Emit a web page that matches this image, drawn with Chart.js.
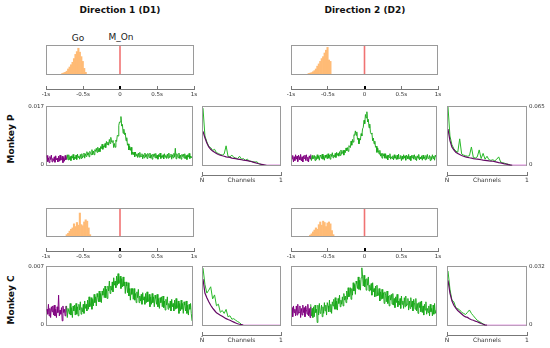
<!DOCTYPE html>
<html><head><meta charset="utf-8">
<script src="https://cdn.jsdelivr.net/npm/chart.js@4"></script>
<style>
html,body{margin:0;padding:0;background:#fff;width:550px;height:348px;overflow:hidden;position:relative;font-family:'DejaVu Sans',sans-serif;}
.box{position:absolute;border:1px solid #9a9a9a;box-sizing:border-box;}
canvas{position:absolute;}
.t{position:absolute;white-space:nowrap;color:#111;transform:translate(-50%,-50%);}
.title{font-weight:bold;font-size:9px;}
.ev{font-size:9px;color:#222;}
.mk{font-weight:bold;font-size:9px;transform:translate(-50%,-50%) rotate(-90deg);}
</style></head><body>
<div class="t title" style="left:120px;top:10px">Direction 1 (D1)</div>
<div class="t title" style="left:365px;top:10px">Direction 2 (D2)</div>
<div class="t ev" style="left:78px;top:38px">Go</div>
<div class="t ev" style="left:121px;top:37px">M_On</div>
<div class="t mk" style="left:11px;top:139px">Monkey P</div>
<div class="t mk" style="left:11px;top:300px">Monkey C</div>
<script>
// ---------- data ----------
const timeGrid = [
-1.00,-0.99,-0.98,-0.97,-0.96,-0.95,-0.94,-0.93,-0.92,-0.91,
-0.90,-0.89,-0.88,-0.87,-0.86,-0.85,-0.84,-0.83,-0.82,-0.81,
-0.80,-0.79,-0.78,-0.77,-0.76,-0.75,-0.74,-0.73,-0.72,-0.71,
-0.70,-0.69,-0.68,-0.67,-0.66,-0.65,-0.64,-0.63,-0.62,-0.61,
-0.60,-0.59,-0.58,-0.57,-0.56,-0.55,-0.54,-0.53,-0.52,-0.51,
-0.50,-0.49,-0.48,-0.47,-0.46,-0.45,-0.44,-0.43,-0.42,-0.41,
-0.40,-0.39,-0.38,-0.37,-0.36,-0.35,-0.34,-0.33,-0.32,-0.31,
-0.30,-0.29,-0.28,-0.27,-0.26,-0.25,-0.24,-0.23,-0.22,-0.21,
-0.20,-0.19,-0.18,-0.17,-0.16,-0.15,-0.14,-0.13,-0.12,-0.11,
-0.10,-0.09,-0.08,-0.07,-0.06,-0.05,-0.04,-0.03,-0.02,-0.01,
0.00,0.01,0.02,0.03,0.04,0.05,0.06,0.07,0.08,0.09,
0.10,0.11,0.12,0.13,0.14,0.15,0.16,0.17,0.18,0.19,
0.20,0.21,0.22,0.23,0.24,0.25,0.26,0.27,0.28,0.29,
0.30,0.31,0.32,0.33,0.34,0.35,0.36,0.37,0.38,0.39,
0.40,0.41,0.42,0.43,0.44,0.45,0.46,0.47,0.48,0.49,
0.50,0.51,0.52,0.53,0.54,0.55,0.56,0.57,0.58,0.59,
0.60,0.61,0.62,0.63,0.64,0.65,0.66,0.67,0.68,0.69,
0.70,0.71,0.72,0.73,0.74,0.75,0.76,0.77,0.78,0.79,
0.80,0.81,0.82,0.83,0.84,0.85,0.86,0.87,0.88,0.89,
0.90,0.91,0.92,0.93,0.94,0.95,0.96,0.97,0.98,0.99,
1.00];
const chanGrid = [0,0.025,0.05,0.075,0.1,0.125,0.15,0.175,0.2,0.225,0.25,0.275,0.3,0.325,0.35,0.375,0.4,0.425,0.45,0.475,0.5,0.525,0.55,0.575,0.6,0.625,0.65,0.675,0.7,0.725,0.75,0.775,0.8,0.825,0.85,0.875,0.9,0.925,0.95,0.975,1];

const timeTickValues = [-1,-0.5,0,0.5,1];
const timeTickLabels = ['-1s','-0.5s','0','0.5s','1s'];
const chanTickValues = [0,0.5,1];
const chanTickLabels = ['N\u0304','Channels','1'];
const monkeyPTraceTicks = ['0','0.017'];
const monkeyCTraceTicks = ['0','0.007'];
const monkeyPChanTicks = ['0','0.065'];
const monkeyCChanTicks = ['0','0.032'];

// Go-time histograms relative to M_On (relative frequency)
const pD1Bins = [-0.79,-0.77,-0.75,-0.73,-0.71,-0.69,-0.67,-0.65,-0.63,-0.61,-0.59,-0.57,-0.55,-0.53,-0.51,-0.49,-0.47];
const pD1Hist = [0.02,0.04,0.06,0.10,0.18,0.25,0.33,0.42,0.55,0.70,0.80,0.92,0.78,0.62,0.45,0.20,0.06];
const pD2Bins = [-0.77,-0.75,-0.73,-0.71,-0.69,-0.67,-0.65,-0.63,-0.61,-0.59,-0.57,-0.55,-0.53,-0.51,-0.49,-0.47];
const pD2Hist = [0.02,0.03,0.05,0.08,0.12,0.18,0.28,0.36,0.45,0.55,0.62,0.75,0.85,0.95,0.50,0.45];
const cD1Bins = [-0.73,-0.71,-0.69,-0.67,-0.65,-0.63,-0.61,-0.59,-0.57,-0.55,-0.53,-0.51,-0.49,-0.47,-0.45,-0.43,-0.41];
const cD1Hist = [0.05,0.10,0.18,0.25,0.30,0.45,0.35,0.50,0.40,0.85,0.42,0.38,0.52,0.60,0.55,0.30,0.05];
const cD2Bins = [-0.75,-0.73,-0.71,-0.69,-0.67,-0.65,-0.63,-0.61,-0.59,-0.57,-0.55,-0.53,-0.51,-0.49,-0.47,-0.45,-0.43];
const cD2Hist = [0.03,0.08,0.15,0.22,0.30,0.25,0.42,0.52,0.40,0.55,0.50,0.35,0.48,0.52,0.45,0.20,0.05];

// time traces: purple = baseline (-1 .. -0.74 s), green = -0.74 .. 1 s
const pD1Purple = [0.0028,0.0010,0.0021,0.0007,0.0025,0.0016,0.0029,0.0009,0.0019,0.0013,
 0.0024,0.0008,0.0027,0.0015,0.0020,0.0009,0.0026,0.0011,0.0029,0.0014,
 0.0016,0.0026,0.0007,0.0022,0.0011,0.0028,0.0015];
const pD1Green = [0.0024,0.0017,0.0030,0.0015,
 0.0030,0.0016,0.0025,0.0013,0.0027,0.0020,0.0031,0.0015,0.0023,0.0018,
 0.0029,0.0016,0.0032,0.0022,0.0026,0.0017,0.0031,0.0019,0.0033,0.0021,
 0.0026,0.0035,0.0020,0.0033,0.0025,0.0039,0.0029,0.0036,0.0024,0.0040,
 0.0036,0.0030,0.0045,0.0030,0.0041,0.0030,0.0045,0.0040,0.0049,0.0037,
 0.0052,0.0039,0.0049,0.0039,0.0054,0.0048,0.0061,0.0046,0.0056,0.0052,
 0.0063,0.0051,0.0069,0.0060,0.0067,0.0058,0.0075,0.0063,0.0081,0.0068,
 0.0067,0.0072,0.0051,0.0063,0.0052,0.0073,0.0069,0.0087,0.0085,0.0116,
 0.0126,0.0126,0.0142,0.0114,0.0119,0.0093,0.0105,0.0089,0.0094,0.0071,
 0.0080,0.0058,0.0062,0.0044,0.0055,0.0043,0.0052,0.0031,0.0038,0.0030,
 0.0038,0.0024,0.0038,0.0027,0.0032,0.0022,0.0035,0.0023,0.0037,0.0024,
 0.0025,0.0033,0.0018,0.0030,0.0021,0.0035,0.0024,0.0031,0.0019,0.0034,
 0.0029,0.0022,0.0035,0.0020,0.0030,0.0017,0.0032,0.0025,0.0033,0.0021,
 0.0034,0.0020,0.0029,0.0017,0.0031,0.0024,0.0035,0.0019,0.0027,0.0022,
 0.0030,0.0018,0.0033,0.0023,0.0028,0.0019,0.0032,0.0020,0.0035,0.0022,
 0.0024,0.0032,0.0017,0.0030,0.0021,0.0034,0.0024,0.0049,0.0018,0.0033,
 0.0028,0.0021,0.0035,0.0019,0.0029,0.0017,0.0031,0.0025,0.0032,0.0020,
 0.0033,0.0019,0.0028,0.0016,0.0030,0.0023,0.0034,0.0019,0.0026,0.0021,
 0.0026];
const pD2Purple = [0.0018,0.0028,0.0009,0.0024,0.0013,0.0030,0.0017,0.0026,0.0010,0.0029,
 0.0023,0.0015,0.0031,0.0012,0.0024,0.0009,0.0027,0.0019,0.0029,0.0013,
 0.0030,0.0012,0.0023,0.0009,0.0027,0.0018,0.0031];
const pD2Green = [0.0026,0.0013,0.0028,0.0018,
 0.0020,0.0028,0.0013,0.0025,0.0016,0.0030,0.0019,0.0026,0.0014,0.0029,
 0.0026,0.0019,0.0032,0.0017,0.0027,0.0014,0.0029,0.0022,0.0030,0.0018,
 0.0033,0.0020,0.0029,0.0017,0.0032,0.0025,0.0036,0.0021,0.0029,0.0024,
 0.0034,0.0022,0.0037,0.0028,0.0034,0.0026,0.0039,0.0028,0.0044,0.0032,
 0.0034,0.0043,0.0029,0.0043,0.0036,0.0050,0.0042,0.0051,0.0040,0.0057,
 0.0055,0.0051,0.0070,0.0058,0.0075,0.0067,0.0089,0.0087,0.0100,0.0087,
 0.0097,0.0075,0.0079,0.0062,0.0076,0.0073,0.0092,0.0085,0.0106,0.0110,
 0.0131,0.0121,0.0148,0.0138,0.0156,0.0126,0.0134,0.0109,0.0120,0.0095,
 0.0091,0.0094,0.0071,0.0079,0.0062,0.0070,0.0052,0.0055,0.0037,0.0050,
 0.0041,0.0032,0.0043,0.0026,0.0034,0.0020,0.0034,0.0026,0.0033,0.0020,
 0.0033,0.0019,0.0028,0.0015,0.0029,0.0022,0.0033,0.0017,0.0024,0.0019,
 0.0027,0.0015,0.0030,0.0020,0.0025,0.0016,0.0029,0.0017,0.0032,0.0019,
 0.0020,0.0028,0.0013,0.0026,0.0017,0.0030,0.0020,0.0027,0.0014,0.0029,
 0.0025,0.0018,0.0031,0.0016,0.0026,0.0013,0.0028,0.0021,0.0029,0.0017,
 0.0030,0.0016,0.0025,0.0013,0.0027,0.0020,0.0031,0.0015,0.0023,0.0018,
 0.0027,0.0014,0.0029,0.0019,0.0024,0.0015,0.0028,0.0017,0.0031,0.0019,
 0.0020,0.0028,0.0013,0.0025,0.0016,0.0030,0.0019,0.0026,0.0014,0.0029,
 0.0023];
const cD1Purple = [0.0019,0.0013,0.0025,0.0011,0.0020,0.0009,0.0022,0.0016,0.0023,0.0012,
 0.0024,0.0011,0.0019,0.0009,0.0022,0.0015,0.0036,0.0011,0.0018,0.0013,
 0.0021,0.0005,0.0023,0.0015,0.0019,0.0011,0.0023];
const cD1Green = [0.0015,0.0023,0.0009,0.0020,
 0.0020,0.0013,0.0026,0.0012,0.0021,0.0009,0.0023,0.0017,0.0024,0.0012,
 0.0026,0.0013,0.0022,0.0011,0.0025,0.0018,0.0028,0.0013,0.0021,0.0016,
 0.0025,0.0014,0.0029,0.0020,0.0025,0.0017,0.0030,0.0019,0.0034,0.0022,
 0.0024,0.0033,0.0019,0.0031,0.0023,0.0037,0.0027,0.0034,0.0023,0.0038,
 0.0034,0.0028,0.0041,0.0028,0.0038,0.0027,0.0041,0.0036,0.0044,0.0033,
 0.0047,0.0033,0.0043,0.0032,0.0047,0.0041,0.0053,0.0038,0.0047,0.0042,
 0.0052,0.0040,0.0057,0.0048,0.0053,0.0045,0.0059,0.0048,0.0062,0.0050,
 0.0051,0.0059,0.0044,0.0056,0.0046,0.0058,0.0047,0.0052,0.0038,0.0052,
 0.0047,0.0039,0.0051,0.0035,0.0044,0.0030,0.0044,0.0037,0.0044,0.0031,
 0.0044,0.0030,0.0038,0.0027,0.0040,0.0033,0.0043,0.0027,0.0035,0.0029,
 0.0037,0.0025,0.0039,0.0030,0.0034,0.0025,0.0038,0.0027,0.0040,0.0028,
 0.0029,0.0037,0.0022,0.0034,0.0025,0.0038,0.0027,0.0034,0.0022,0.0036,
 0.0032,0.0025,0.0037,0.0022,0.0032,0.0020,0.0033,0.0027,0.0034,0.0022,
 0.0035,0.0021,0.0029,0.0018,0.0031,0.0024,0.0034,0.0019,0.0026,0.0021,
 0.0029,0.0017,0.0031,0.0022,0.0026,0.0017,0.0030,0.0019,0.0032,0.0020,
 0.0021,0.0029,0.0014,0.0026,0.0017,0.0030,0.0019,0.0026,0.0014,0.0028,
 0.0024,0.0017,0.0029,0.0014,0.0024,0.0012,0.0025,0.0019,0.0026,0.0014,
 0.0005];
const cD2Purple = [0.0021,0.0010,0.0023,0.0015,0.0019,0.0011,0.0023,0.0012,0.0025,0.0014,
 0.0015,0.0023,0.0009,0.0020,0.0012,0.0024,0.0015,0.0021,0.0010,0.0023,
 0.0019,0.0013,0.0025,0.0011,0.0020,0.0009,0.0022];
const cD2Green = [0.0025,0.0011,0.0020,0.0009,
 0.0022,0.0010,0.0024,0.0015,0.0019,0.0003,0.0024,0.0012,0.0026,0.0014,
 0.0016,0.0024,0.0010,0.0022,0.0014,0.0027,0.0017,0.0024,0.0012,0.0027,
 0.0023,0.0016,0.0030,0.0016,0.0025,0.0014,0.0028,0.0023,0.0031,0.0019,
 0.0033,0.0019,0.0029,0.0018,0.0032,0.0026,0.0036,0.0022,0.0030,0.0025,
 0.0034,0.0023,0.0038,0.0030,0.0035,0.0027,0.0041,0.0031,0.0045,0.0034,
 0.0036,0.0045,0.0031,0.0044,0.0036,0.0051,0.0041,0.0049,0.0037,0.0053,
 0.0050,0.0044,0.0058,0.0043,0.0054,0.0042,0.0057,0.0069,0.0059,0.0047,
 0.0060,0.0046,0.0055,0.0042,0.0056,0.0048,0.0058,0.0041,0.0048,0.0042,
 0.0050,0.0036,0.0051,0.0040,0.0044,0.0034,0.0047,0.0035,0.0048,0.0035,
 0.0036,0.0044,0.0029,0.0040,0.0031,0.0043,0.0032,0.0039,0.0026,0.0040,
 0.0036,0.0028,0.0041,0.0026,0.0035,0.0023,0.0036,0.0030,0.0037,0.0025,
 0.0038,0.0024,0.0032,0.0021,0.0034,0.0027,0.0037,0.0022,0.0029,0.0024,
 0.0032,0.0020,0.0035,0.0025,0.0029,0.0020,0.0033,0.0022,0.0035,0.0023,
 0.0025,0.0032,0.0018,0.0029,0.0020,0.0033,0.0022,0.0029,0.0017,0.0031,
 0.0027,0.0019,0.0032,0.0017,0.0026,0.0014,0.0027,0.0021,0.0028,0.0016,
 0.0029,0.0015,0.0023,0.0012,0.0025,0.0018,0.0028,0.0013,0.0020,0.0015,
 0.0023,0.0011,0.0025,0.0016,0.0020,0.0011,0.0024,0.0013,0.0026,0.0014,
 0.0018];

// channel profiles (N-bar .. 1)
const pD1ChanPurple = [0.0377,0.0306,0.0247,0.0202,0.0176,0.0156,0.0143,0.0130,0.0117,0.0111,
 0.0104,0.0098,0.0091,0.0088,0.0085,0.0078,0.0075,0.0072,0.0065,0.0062,
 0.0059,0.0055,0.0052,0.0049,0.0044,0.0039,0.0033,0.0026,0.0020,0.0014,
 0.0009,0.0005,0.0001,0,0,0,0,0,0,0,0];
const pD1ChanGreen = [0.0637,0.0325,0.0260,0.0208,0.0195,0.0163,0.0176,0.0137,0.0130,0.0117,
 0.0111,0.0124,0.0215,0.0098,0.0091,0.0111,0.0085,0.0078,0.0072,0.0098,
 0.0065,0.0072,0.0052,0.0065,0.0046,0.0042,0.0036,0.0033,0.0036,0.0016,
 0.0007,0];
const pD2ChanPurple = [0.0403,0.0273,0.0202,0.0169,0.0143,0.0130,0.0117,0.0107,0.0098,0.0091,
 0.0085,0.0081,0.0078,0.0072,0.0068,0.0065,0.0062,0.0059,0.0055,0.0052,
 0.0049,0.0046,0.0044,0.0042,0.0038,0.0033,0.0027,0.0023,0.0018,0.0013,
 0.0009,0.0005,0.0002,0,0,0,0,0,0,0,0];
const pD2ChanGreen = [0.0650,0.0325,0.0228,0.0182,0.0156,0.0143,0.0293,0.0124,0.0111,0.0104,
 0.0098,0.0104,0.0202,0.0085,0.0078,0.0091,0.0169,0.0072,0.0130,0.0065,
 0.0098,0.0059,0.0052,0.0059,0.0046,0.0065,0.0091,0.0033,0.0026,0.0020,
 0.0013,0.0007,0];
const cD1ChanPurple = [0.0253,0.0176,0.0150,0.0128,0.0109,0.0093,0.0080,0.0067,0.0061,0.0054,
 0.0048,0.0042,0.0035,0.0030,0.0026,0.0021,0.0016,0.0011,0.0007,0.0004,
 0.0002,0,0,0,0,0,0,0,0,0,0,0,0,0,0,0,0,0,0,0,0];
const cD1ChanGreen = [0.0314,0.0224,0.0176,0.0192,0.0211,0.0144,0.0166,0.0106,0.0115,0.0070,
 0.0080,0.0064,0.0086,0.0045,0.0051,0.0032,0.0035,0.0026,0.0019,0.0013,0.0003];
const cD2ChanPurple = [0.0246,0.0176,0.0134,0.0109,0.0093,0.0080,0.0070,0.0061,0.0051,0.0045,
 0.0042,0.0035,0.0029,0.0026,0.0021,0.0018,0.0013,0.0008,0.0004,0.0001,
 0,0,0,0,0,0,0,0,0,0,0,0,0,0,0,0,0,0,0,0,0];
const cD2ChanGreen = [0.0298,0.0198,0.0138,0.0128,0.0096,0.0090,0.0083,0.0070,0.0064,0.0058,
 0.0070,0.0083,0.0064,0.0051,0.0038,0.0026,0.0019,0.0013,0.0006,0.0002];

// ---------- drawing ----------
const PURPLE = 'rgb(128,0,128)';
const GREEN = 'rgba(24,168,24,0.92)';
const CH_PURPLE = 'rgb(100,10,100)';
const CH_GREEN = 'rgb(40,185,40)';
const TAIL = 'rgb(228,160,228)';
const ORANGE = 'rgb(255,187,118)';
const RED = 'rgb(240,115,115)';

Chart.defaults.font.family = "'DejaVu Sans', sans-serif";

function addBox(x, y, w, h) {
  const d = document.createElement('div');
  d.className = 'box';
  d.style.cssText = `left:${x}px;top:${y}px;width:${w}px;height:${h}px`;
  document.body.appendChild(d);
}
function addCanvas(x, y, w, h) {
  const c = document.createElement('canvas');
  c.width = w; c.height = h;
  c.style.left = x + 'px'; c.style.top = y + 'px';
  c.style.width = w + 'px'; c.style.height = h + 'px';
  document.body.appendChild(c);
  return c;
}
const pts = (grid, vals, off) => vals.map((v, i) => ({x: grid[off + i], y: v}));
const baseOpts = {responsive:false, animation:false, devicePixelRatio:1,
  plugins:{legend:{display:false}, tooltip:{enabled:false}}};

function panel(box, datasets, xr, yr, yAxis) {
  const [bx, by, bw, bh] = box;
  addBox(bx, by, bw, bh);
  const ax = 34, m = 8;
  let left = bx + 1, top = by + 1, w = bw - 2, h = bh - 2;
  const pad = {left:0, right:0, top:0, bottom:0};
  if (yAxis) {
    top -= m; h += 2 * m; pad.top = m; pad.bottom = m;
    w += ax;
    if (yAxis.side === 'left') left -= ax;
  }
  const cv = addCanvas(left, top, w, h);
  const yScale = {type:'linear', min:yr[0], max:yr[1], display:false};
  if (yAxis) {
    Object.assign(yScale, {
      display:true, position:yAxis.side,
      grid:{display:false, drawTicks:false}, border:{display:false},
      afterBuildTicks: s => { s.ticks = [{value:yr[0]}, {value:yr[1]}]; },
      afterFit: s => { s.width = ax; },
      ticks:{padding:3, color:'#333', font:{size:5.5}, callback:(v, i) => yAxis.labels[i]}
    });
  }
  new Chart(cv, {
    type:'line',
    data:{datasets},
    options:{...baseOpts,
      layout:{padding:pad},
      elements:{point:{radius:0}, line:{tension:0, borderWidth:1}},
      scales:{
        x:{type:'linear', min:xr[0], max:xr[1], display:false},
        y:yScale
      }}
  });
}

function hist(box, bins, heights) {
  const [bx, by, bw, bh] = box;
  addBox(bx, by, bw, bh);
  const cv = addCanvas(bx + 1, by + 1, bw - 2, bh - 2);
  new Chart(cv, {
    type:'bar',
    data:{datasets:[
      {type:'line', data:[{x:0, y:0}, {x:0, y:1}], borderColor:RED, borderWidth:1.6, pointRadius:0},
      {type:'bar', data:bins.map((b, i) => ({x:b, y:heights[i]})), backgroundColor:ORANGE,
       borderWidth:0, barPercentage:1, categoryPercentage:1}
    ]},
    options:{...baseOpts,
      scales:{x:{type:'linear', min:-1, max:1, display:false, offset:false},
              y:{min:0, max:1, display:false}}}
  });
}

function axis(x0, w, yLine, values, labels, fontSize, scaleH, markTicks) {
  const pad = 14, areaH = 3;
  const cv = addCanvas(x0 - pad, yLine - areaH, w + 2 * pad, areaH + scaleH);
  new Chart(cv, {
    type:'scatter',
    data:{datasets:[]},
    options:{...baseOpts,
      layout:{padding:{left:pad, right:pad, top:0, bottom:0}},
      scales:{
        x:{type:'linear', min:values[0], max:values[values.length - 1], position:'bottom',
           afterBuildTicks: s => { s.ticks = values.map(v => ({value:v})); },
           afterFit: s => { s.height = scaleH; },
           grid:{drawTicks:false, drawOnChartArea:true,
                 color: c => markTicks(c.tick ? c.tick.value : null),
                 lineWidth: c => (c.tick && c.tick.value === 0 && values[0] < 0) ? 2 : 1},
           border:{display:true, color:'#777', width:1},
           ticks:{padding:2, autoSkip:false, maxRotation:0, color:'#333', font:{size:fontSize},
                  callback:(v, i) => labels[i]}},
        y:{display:false, min:0, max:1}
      }}
  });
}
const timeTickColor = v => v === 0 ? '#000' : '#777';
const chanTickColor = v => (v === 0 || v === 1) ? '#777' : 'rgba(0,0,0,0)';

function traceSets(purple, green) {
  return [
    {data:pts(timeGrid, purple, 0), borderColor:PURPLE, borderWidth:1, clip:2},
    {data:pts(timeGrid, green, purple.length - 1), borderColor:GREEN, borderWidth:1, clip:2}
  ];
}
function chanSets(purple, green) {
  return [
    {data:pts(chanGrid, purple, 0), borderColor:CH_PURPLE, borderWidth:1.2, clip:2,
     segment:{borderColor: c => (c.p0.parsed.y === 0 && c.p1.parsed.y === 0) ? TAIL : undefined}},
    {data:pts(chanGrid, green, 0), borderColor:CH_GREEN, borderWidth:1, clip:2}
  ];
}

// Monkey P
hist([46, 45, 148, 30], pD1Bins, pD1Hist);
axis(46, 148, 89, timeTickValues, timeTickLabels, 5.5, 11, timeTickColor);
panel([46, 106, 147, 60], traceSets(pD1Purple, pD1Green), [-1, 1], [0, 0.017], {side:'left', labels:monkeyPTraceTicks});
panel([202, 106, 79, 60], chanSets(pD1ChanPurple, pD1ChanGreen), [0, 1], [0, 0.065], null);
axis(202, 79, 175, chanTickValues, chanTickLabels, 6, 12, chanTickColor);

hist([291, 45, 147, 30], pD2Bins, pD2Hist);
axis(291, 147, 89, timeTickValues, timeTickLabels, 5.5, 11, timeTickColor);
panel([291, 106, 146, 60], traceSets(pD2Purple, pD2Green), [-1, 1], [0, 0.017], null);
panel([447, 106, 80, 60], chanSets(pD2ChanPurple, pD2ChanGreen), [0, 1], [0, 0.065], {side:'right', labels:monkeyPChanTicks});
axis(447, 80, 175, chanTickValues, chanTickLabels, 6, 12, chanTickColor);

// Monkey C
hist([46, 208, 148, 29], cD1Bins, cD1Hist);
axis(46, 148, 251, timeTickValues, timeTickLabels, 5.5, 11, timeTickColor);
panel([46, 266, 147, 60], traceSets(cD1Purple, cD1Green), [-1, 1], [0, 0.007], {side:'left', labels:monkeyCTraceTicks});
panel([202, 266, 79, 60], chanSets(cD1ChanPurple, cD1ChanGreen), [0, 1], [0, 0.032], null);
axis(202, 79, 335, chanTickValues, chanTickLabels, 6, 12, chanTickColor);

hist([291, 208, 147, 29], cD2Bins, cD2Hist);
axis(291, 147, 251, timeTickValues, timeTickLabels, 5.5, 11, timeTickColor);
panel([291, 266, 146, 60], traceSets(cD2Purple, cD2Green), [-1, 1], [0, 0.007], null);
panel([447, 266, 80, 60], chanSets(cD2ChanPurple, cD2ChanGreen), [0, 1], [0, 0.032], {side:'right', labels:monkeyCChanTicks});
axis(447, 80, 335, chanTickValues, chanTickLabels, 6, 12, chanTickColor);
</script>
</body></html>
